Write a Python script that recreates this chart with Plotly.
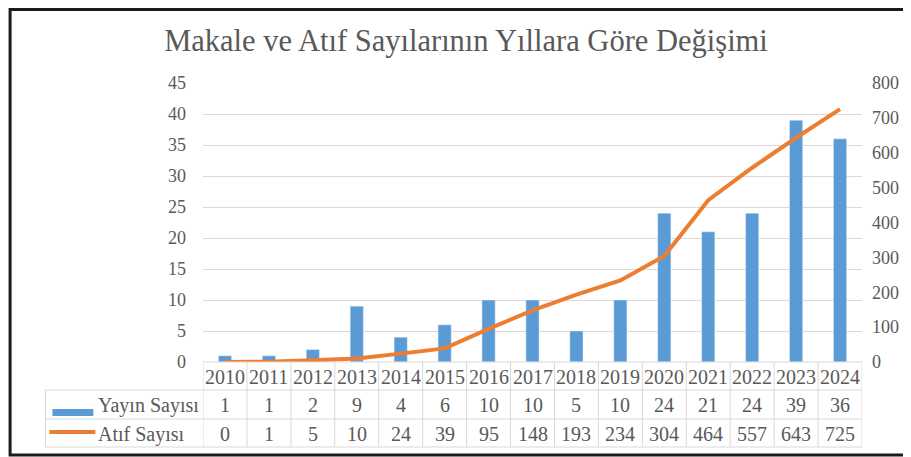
import plotly.graph_objects as go

years = ["2010", "2011", "2012", "2013", "2014", "2015", "2016", "2017",
         "2018", "2019", "2020", "2021", "2022", "2023", "2024"]
yayin = [1, 1, 2, 9, 4, 6, 10, 10, 5, 10, 24, 21, 24, 39, 36]
atif = [0, 1, 5, 10, 24, 39, 95, 148, 193, 234, 304, 464, 557, 643, 725]
series_names = ["Yayın Sayısı", "Atıf Sayısı"]
title = "Makale ve Atıf Sayılarının Yıllara Göre Değişimi"

BLUE = "#5B9BD5"
ORANGE = "#ED7D31"
GRAY = "#595959"
GRID = "#D9D9D9"
FONT = "Liberation Serif"

OFF = 8  # page body margin
W, H = 911 - OFF, 457 - OFF
L = 203 - OFF
R = W - (864 - OFF)
T = 83 - OFF
B = H - (362 - OFF)
PW = W - L - R
PH = H - T - B


def px(x):
    return (x - OFF - L) / PW


def py(y):
    return (H - B - (y - OFF)) / PH


fig = go.Figure()
fig.add_trace(go.Bar(x=years, y=yayin, name=series_names[0], marker_color=BLUE,
                     yaxis="y"))
fig.add_trace(go.Scatter(x=years, y=atif, name=series_names[1], mode="lines",
                         line=dict(color=ORANGE, width=4), yaxis="y2"))

shapes = []
annotations = []
n = len(years)
row_top = [362, 390, 419, 447]
line_style = dict(color=GRID, width=1)
shapes.append(dict(type="line", xref="x", yref="paper", x0=-0.5, x1=n - 0.5,
                   y0=py(row_top[0]), y1=py(row_top[0]), line=line_style))
for yy in row_top[1:]:
    shapes.append(dict(type="line", xref="paper", yref="paper", x0=px(45), x1=1,
                       y0=py(yy), y1=py(yy), line=line_style))
for i in range(n + 1):
    shapes.append(dict(type="line", xref="x", yref="paper", x0=i - 0.5, x1=i - 0.5,
                       y0=py(row_top[0]), y1=py(row_top[3]), line=line_style))
shapes.append(dict(type="line", xref="paper", yref="paper", x0=px(45), x1=px(45),
                   y0=py(row_top[1]), y1=py(row_top[3]), line=line_style))

# legend keys
shapes.append(dict(type="rect", xref="paper", yref="paper", x0=px(52), x1=px(93),
                   y0=py(409), y1=py(416), fillcolor=BLUE, line=dict(width=0)))
shapes.append(dict(type="line", xref="paper", yref="paper", x0=px(49), x1=px(95),
                   y0=py(432), y1=py(432), line=dict(color=ORANGE, width=4)))

# outer border
shapes.append(dict(type="rect", xref="paper", yref="paper", x0=px(9.5), x1=px(918),
                   y0=py(455), y1=py(9.5), line=dict(color="#1a1a1a", width=3)))

tf = dict(family=FONT, size=20, color=GRAY)
for i, yr in enumerate(years):
    annotations.append(dict(x=i, y=py(377), xref="x", yref="paper", text=yr,
                            showarrow=False, font=tf, yanchor="middle"))
    annotations.append(dict(x=i, y=py(405), xref="x", yref="paper", text=str(yayin[i]),
                            showarrow=False, font=tf, yanchor="middle"))
    annotations.append(dict(x=i, y=py(434), xref="x", yref="paper", text=str(atif[i]),
                            showarrow=False, font=tf, yanchor="middle"))
annotations.append(dict(x=px(96), y=py(405), xref="paper", yref="paper",
                        text=series_names[0], showarrow=False, font=tf,
                        xanchor="left", yanchor="middle"))
annotations.append(dict(x=px(96), y=py(434), xref="paper", yref="paper",
                        text=series_names[1], showarrow=False, font=tf,
                        xanchor="left", yanchor="middle"))

fig.update_layout(
    width=W, height=H,
    margin=dict(l=L, r=R, t=T, b=B),
    paper_bgcolor="white", plot_bgcolor="white",
    showlegend=False,
    bargap=0.7,
    title=dict(text=title, x=(466 - OFF) / W, xanchor="center", y=1 - (40 - OFF) / H,
               yanchor="middle", font=dict(family=FONT, size=30.5, color=GRAY)),
    xaxis=dict(type="category", showticklabels=False, showgrid=False, showline=False,
               ticks="", range=[-0.5, n - 0.5]),
    yaxis=dict(range=[0, 45], dtick=5, showgrid=True, gridcolor=GRID, gridwidth=1,
               zeroline=False, showline=False, ticks="",
               tickfont=dict(family=FONT, size=18, color=GRAY), ticklabelstandoff=16),
    yaxis2=dict(range=[0, 800], dtick=100, overlaying="y", side="right", showgrid=False,
                zeroline=False, showline=False, ticks="",
                tickfont=dict(family=FONT, size=18, color=GRAY), ticklabelstandoff=9),
    shapes=shapes,
    annotations=annotations,
)

fig.write_html("out.html")
